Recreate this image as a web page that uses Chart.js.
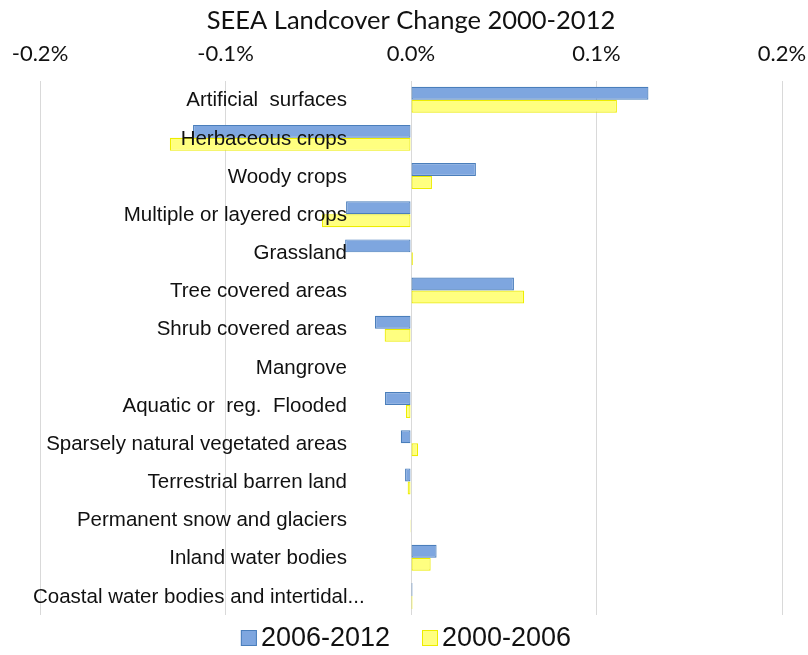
<!DOCTYPE html>
<html>
<head>
<meta charset="utf-8">
<script src="https://cdn.jsdelivr.net/npm/chart.js@4"></script>
<style>
html,body{margin:0;padding:0;background:#fff;}
#wrap{width:808px;height:655px;position:relative;}
</style>
</head>
<body>
<div id="wrap"><canvas id="c" width="808" height="655"></canvas></div>
<script>
const categories = [
  "Artificial  surfaces",
  "Herbaceous crops",
  "Woody crops",
  "Multiple or layered crops",
  "Grassland",
  "Tree covered areas",
  "Shrub covered areas",
  "Mangrove",
  "Aquatic or  reg.  Flooded",
  "Sparsely natural vegetated areas",
  "Terrestrial barren land",
  "Permanent snow and glaciers",
  "Inland water bodies",
  "Coastal water bodies and intertidal..."
];
const series2006_2012 = [0.128, -0.1175, 0.035, -0.035, -0.0355, 0.0555, -0.0194, 0, -0.014, -0.0055, -0.0032, 0, 0.0138, 0.0008];
const series2000_2006 = [0.111, -0.130, 0.0113, -0.048, 0.001, 0.061, -0.0142, 0, -0.0027, 0.0038, -0.0018, -0.0005, 0.0106, 0.0008];
const xTicks = [-0.2, -0.1, 0.0, 0.1, 0.2];

const LABEL_FONT = '20.5px "Liberation Sans", Arial, sans-serif';
const LEGEND_FONT = '27px "Liberation Sans", Arial, sans-serif';

const catLabelPlugin = {
  id: 'catLabels',
  afterDatasetsDraw(chart) {
    const {ctx, scales} = chart;
    const xr = scales.x.getPixelForValue(0) - 64;
    ctx.save();
    ctx.font = LABEL_FONT;
    ctx.fillStyle = '#111';
    ctx.textAlign = 'left';
    ctx.textBaseline = 'middle';
    categories.forEach((c, i) => {
      const w = ctx.measureText(c).width;
      const xl = Math.max(xr - w, 33);
      ctx.fillText(c, xl, scales.y.getPixelForValue(i) + 1);
    });
    ctx.restore();
  }
};

const legendPlugin = {
  id: 'customLegend',
  afterDraw(chart) {
    const {ctx, chartArea, width} = chart;
    const box = 16, gapText = 4, gapItem = 32;
    ctx.save();
    ctx.font = LEGEND_FONT;
    ctx.textBaseline = 'middle';
    ctx.textAlign = 'left';
    const items = chart.data.datasets.map(d => ({ label: d.label, bg: d.backgroundColor, bd: d.borderColor, w: ctx.measureText(d.label).width }));
    let total = 0;
    items.forEach((it, i) => { total += box + gapText + it.w + (i < items.length - 1 ? gapItem : 0); });
    let x = width / 2 + 2 - total / 2;
    const yc = chartArea.bottom + 23;
    items.forEach(it => {
      ctx.fillStyle = it.bg;
      ctx.fillRect(x, yc - box / 2, box, box);
      ctx.strokeStyle = it.bd;
      ctx.lineWidth = 1;
      ctx.strokeRect(x + 0.5, yc - box / 2 + 0.5, box - 1, box - 1);
      x += box + gapText;
      ctx.fillStyle = '#111';
      ctx.fillText(it.label, x, yc + 1);
      x += it.w + gapItem;
    });
    ctx.restore();
  }
};

new Chart(document.getElementById('c'), {
  type: 'bar',
  data: {
    labels: categories,
    datasets: [
      { label: '2006-2012', data: series2006_2012, backgroundColor: '#7EA6DF', borderColor: '#4A7EBB', borderWidth: 1.2, borderSkipped: false },
      { label: '2000-2006', data: series2000_2006, backgroundColor: '#FFFF80', borderColor: '#EDED00', borderWidth: 1.2, borderSkipped: false }
    ]
  },
  options: {
    indexAxis: 'y',
    responsive: false,
    animation: false,
    layout: { padding: { left: 40, right: 26, top: 0, bottom: 40 } },
    datasets: { bar: { categoryPercentage: 0.68, barPercentage: 1.0 } },
    scales: {
      x: {
        position: 'top',
        min: -0.2, max: 0.2,
        afterBuildTicks(scale) { scale.ticks = xTicks.map(v => ({ value: v })); },
        ticks: {
          padding: 0,
          color: '#111',
          font: { family: 'Lato, "Liberation Sans Narrow", sans-serif', size: 22, lineHeight: '54px' },
          callback: v => v.toFixed(1) + '%'
        },
        grid: { color: '#d9d9d9', lineWidth: 1, drawTicks: false },
        border: { display: false }
      },
      y: {
        display: false
      }
    },
    plugins: {
      title: {
        display: true,
        text: 'SEEA Landcover Change 2000-2012',
        color: '#111',
        font: { family: 'Lato, sans-serif', size: 25.5, weight: 'normal' },
        padding: { top: 5, bottom: -9 }
      },
      legend: { display: false },
      tooltip: { enabled: false }
    }
  },
  plugins: [catLabelPlugin, legendPlugin]
});
</script>
</body>
</html>
